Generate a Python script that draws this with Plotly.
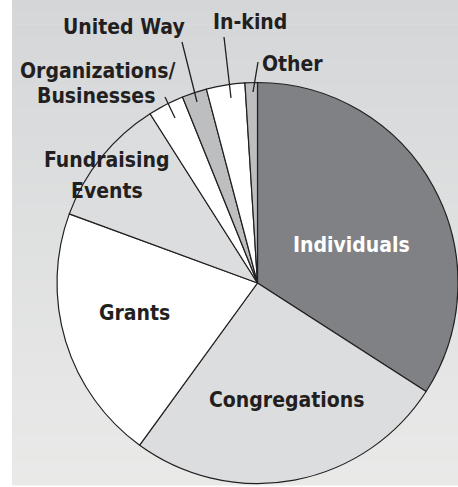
import plotly.graph_objects as go

W, H = 458, 487

categories = ["Individuals", "Congregations", "Grants", "Fundraising Events",
              "Organizations/Businesses", "United Way", "In-kind", "Other"]
values = [34.1, 25.9, 20.6, 10.4, 2.9, 2.0, 3.1, 1.0]
colors = ["#808184", "#dcdddf", "#ffffff", "#dcdddf",
          "#ffffff", "#bcbec0", "#ffffff", "#bcbec0"]

def px(x):
    return x / W

def py(y):
    return 1 - y / H

fig = go.Figure()
fig.add_trace(go.Pie(
    labels=categories, values=values, sort=False, direction="clockwise",
    rotation=0, textinfo="none", hoverinfo="skip", showlegend=False,
    marker=dict(colors=colors, line=dict(color="#231f20", width=1.2)),
    domain=dict(x=[57 / W, 1.0], y=[py(484), py(82)]),
))

# background gradient (stepped bands)
shapes = []
n = 40
top = (213, 214, 216)
bot = (233, 234, 232)
y0, y1 = 0, 485
for i in range(n):
    t = i / (n - 1)
    c = tuple(round(top[k] + (bot[k] - top[k]) * t) for k in range(3))
    ya = y0 + (y1 - y0) * i / n
    yb = y0 + (y1 - y0) * (i + 1) / n + 0.5
    shapes.append(dict(type="rect", xref="paper", yref="paper", layer="below",
                       x0=px(12), x1=1, y0=py(yb), y1=py(ya),
                       fillcolor="rgb(%d,%d,%d)" % c, line=dict(width=0)))

leaders = [((165, 97), (175, 118)), ((182, 42), (197, 102)),
           ((224, 37), (231, 98)), ((258, 62), (253, 92))]
for (xa, ya), (xb, yb) in leaders:
    shapes.append(dict(type="line", xref="paper", yref="paper", layer="above",
                       x0=px(xa), y0=py(ya), x1=px(xb), y1=py(yb),
                       line=dict(color="#231f20", width=1.3)))

FONT = "DejaVu Sans Condensed, Liberation Sans Narrow, Arial Narrow, sans-serif"
labels = [
    ("Individuals", 351, 245, "white", 21),
    ("Congregations", 286, 400, "#231f20", 21),
    ("Grants", 134, 313, "#231f20", 21),
    ("Fundraising", 107, 160, "#231f20", 21),
    ("Events", 107, 191, "#231f20", 21),
    ("Organizations/", 97, 71, "#231f20", 21),
    ("Businesses", 96, 96, "#231f20", 21),
    ("United Way", 124, 27, "#231f20", 21),
    ("In-kind", 250, 22, "#231f20", 21),
    ("Other", 292, 64, "#231f20", 21),
]
annotations = []
for text, x, y, col, size in labels:
    annotations.append(dict(text="<b>%s</b>" % text, x=px(x), y=py(y),
                            xref="paper", yref="paper", showarrow=False,
                            xanchor="center", yanchor="middle",
                            font=dict(family=FONT, size=size, color=col)))

fig.update_layout(width=W, height=H, margin=dict(l=0, r=0, t=0, b=0),
                  paper_bgcolor="white", plot_bgcolor="white",
                  shapes=shapes, annotations=annotations)
fig.write_html("out.html", config={"displayModeBar": False},
               post_script="document.body.style.margin='0';document.body.style.overflow='hidden';")
